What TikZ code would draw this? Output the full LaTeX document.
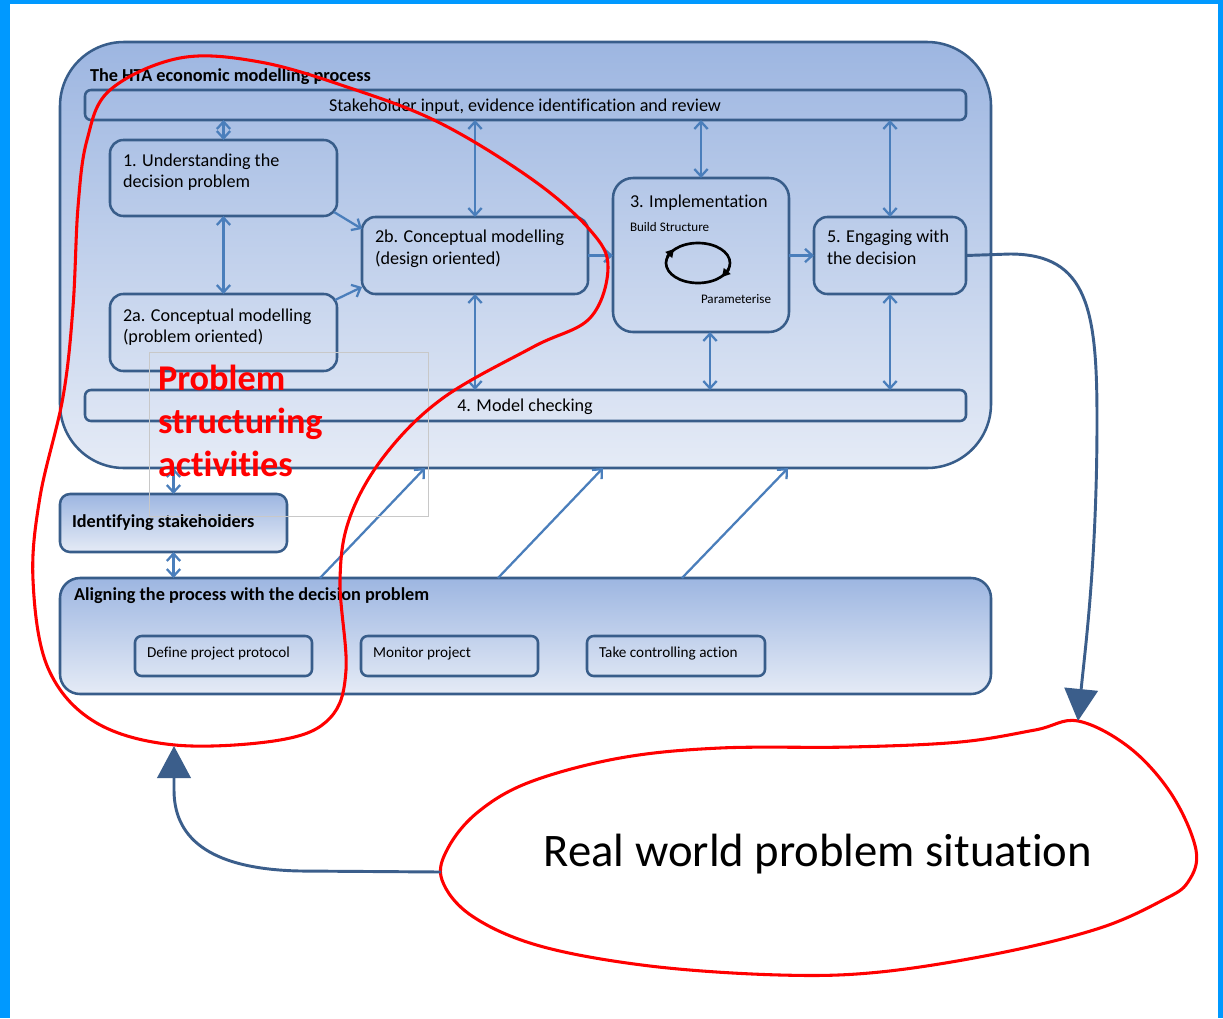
\documentclass[tikz,border=0pt]{standalone}
\usepackage{fontspec}
\setmainfont{Carlito}[Ligatures=NoCommon]
\usetikzlibrary{arrows.meta,calc}
\definecolor{frameblue}{HTML}{0099FF}
\definecolor{bord}{HTML}{385D8A}
\definecolor{arrlight}{HTML}{4A7EBB}
\definecolor{arrdark}{HTML}{3B5E8B}
\definecolor{gtop}{HTML}{9DB6E1}
\definecolor{gbot}{HTML}{E5EBF6}
\definecolor{psgray}{HTML}{C8C8C8}
\newcommand\fsz[1]{\fontsize{#1}{#1}\selectfont}
\begin{document}
\begin{tikzpicture}[x=0.75pt,y=-0.75pt,
  sz/.style 2 args={minimum width={#1*0.75pt},minimum height={#2*0.75pt}},
  boxbase/.style={draw=bord, line width=1.9pt, inner sep=0pt, outer sep=0pt, rectangle},
  grad/.style={top color=gtop, bottom color=gbot},
  txt/.style={inner sep=0pt, outer sep=0pt, text=black},
  boxtxt/.style={txt, anchor=base west, font=\fsz{13.6}},
  boldtxt/.style={txt, anchor=base west, font=\fsz{13.7}\bfseries},
  subtxt/.style={txt, anchor=base west, font=\fsz{11.4}},
  smalltxt/.style={txt, anchor=base west, font=\fsz{9.8}},
  redtxt/.style={txt, anchor=base west, text=red, font=\fsz{27.2}\bfseries},
  larr/.style={draw=arrlight, line width=1.7pt, -{Straight Barb[length=5.5pt,width=10pt]}},
  ldbl/.style={draw=arrlight, line width=1.7pt, {Straight Barb[length=5.5pt,width=10pt]}-{Straight Barb[length=5.5pt,width=10pt]}},
  darr/.style={draw=arrdark, line width=2.2pt, -{Triangle[length=24pt,width=25pt]}},
  redline/.style={draw=red, line width=2.3pt},
]
\useasboundingbox (0,0) rectangle (1223,1018);
\fill[white] (0,0) rectangle (1223,1018);
\fill[frameblue] (0,0) rectangle (10,1018);
\fill[frameblue] (0,0) rectangle (1223,4);
\fill[frameblue] (1218,0) rectangle (1223,1018);

% main container
\node[boxbase, grad, sz={931}{426}, rounded corners=48pt] (C) at (525.5,255) {};
\node[boldtxt] (tC) at (90,81) {The HTA economic modelling process};
\node[boxbase, sz={881}{30}, rounded corners=4.5pt] (S) at (525.5,105) {};
\node[txt, anchor=base, font=\fsz{13.6}] (tS) at (525,111) {Stakeholder input, evidence identification and review};
\node[boxbase, sz={227}{76}, rounded corners=10pt] (B1) at (223.5,178) {};
\node[boxtxt] (t1a) at (123,166) {1. Understanding the};
\node[boxtxt] (t1b) at (123,187) {decision problem};
\node[boxbase, sz={227}{77}, rounded corners=10pt] (B2a) at (223.5,332.5) {};
\node[boxtxt] (t2aa) at (123,321) {2a. Conceptual modelling};
\node[boxtxt] (t2ab) at (123,342) {(problem oriented)};
\node[boxbase, sz={226}{77}, rounded corners=10pt] (B2b) at (475,255.5) {};
\node[boxtxt] (t2ba) at (375,242) {2b. Conceptual modelling};
\node[boxtxt] (t2bb) at (375,264) {(design oriented)};
\node[boxbase, sz={176}{154}, rounded corners=15pt] (B3) at (701,255) {};
\node[boxtxt] (t3) at (630,207) {3. Implementation};
\node[smalltxt] (tbs) at (630,231) {Build Structure};
\node[smalltxt] (tpa) at (701,303) {Parameterise};
\node[boxbase, sz={152}{77}, rounded corners=10pt] (B5) at (890,255.5) {};
\node[boxtxt] (t5a) at (827,242) {5. Engaging with};
\node[boxtxt] (t5b) at (827,264) {the decision};
\node[boxbase, sz={881}{31}, rounded corners=4.5pt] (M) at (525.5,405.5) {};
\node[txt, anchor=base, font=\fsz{13.6}] (tM) at (525,411) {4. Model checking};

% cycle in implementation
\draw[black, line width=2pt] (698,263) ellipse [x radius=24pt, y radius=15pt];
\draw[black, line width=2pt, -{Triangle[length=6pt,width=6.5pt]}] (667,257) -- (674,249);
\draw[black, line width=2pt, -{Triangle[length=6pt,width=6.5pt]}] (729,269) -- (722,277);

% identifying stakeholders
\node[boxbase, grad, sz={227}{58}, rounded corners=7.5pt] (IS) at (173.5,523) {};
\node[boldtxt] (tIS) at (72,527) {Identifying stakeholders};

% aligning
\node[boxbase, grad, sz={931}{116}, rounded corners=15pt] (AL) at (525.5,636) {};
\node[boldtxt] (tAL) at (74,600) {Aligning the process with the decision problem};
\node[boxbase, sz={177}{40}, rounded corners=5pt] (D1) at (223.5,656) {};
\node[subtxt] (tD1) at (147,657) {Define project protocol};
\node[boxbase, sz={177}{40}, rounded corners=5pt] (D2) at (449.5,656) {};
\node[subtxt] (tD2) at (373,657) {Monitor project};
\node[boxbase, sz={178}{40}, rounded corners=5pt] (D3) at (676,656) {};
\node[subtxt] (tD3) at (599,657) {Take controlling action};

% light arrows
\draw[ldbl] (B1.north |- S.south) -- (B1.north);
\draw[ldbl] (B1.south) -- (B2a.north);
\draw[larr] ($(B1.south east)+(-3,-4)$) -- ($(B2b.north west)+(0,12)$);
\draw[larr] ($(B2a.north east)+(-2,6)$) -- ($(B2b.south west)+(0,-7)$);
\draw[ldbl] (B2b.north |- S.south) -- (B2b.north);
\draw[ldbl] (B2b.south) -- (B2b.south |- M.north);
\draw[larr] (B2b.east) -- (B2b.east -| B3.west);
\draw[ldbl] (B3.north |- S.south) -- (B3.north);
\draw[ldbl] ($(B3.south)+(9,0)$) -- ($(B3.south |- M.north)+(9,0)$);
\draw[larr] (B5.west -| B3.east) -- (B5.west);
\draw[ldbl] (B5.north |- S.south) -- (B5.north);
\draw[ldbl] (B5.south) -- (B5.south |- M.north);
\draw[ldbl] (IS.north |- C.south) -- (IS.north);
\draw[ldbl] (IS.south) -- (IS.south |- AL.north);
\draw[larr] ($(AL.north west)+(260,0)$) -- ($(C.south west)+(365,0)$);
\draw[larr] ($(AL.north west)+(438,0)$) -- ($(C.south west)+(543,0)$);
\draw[larr] ($(AL.north west)+(622,0)$) -- ($(C.south west)+(728,0)$);

% problem structuring text box
\node[draw=psgray, line width=0.75pt, sz={279}{164}, inner sep=0pt] (PSbox) at (288.5,434) {};
\node[redtxt] (tp1) at (158,390) {Problem};
\node[redtxt] (tp2) at (158,433) {structuring};
\node[redtxt] (tp3) at (158,476) {activities};

% red curves
\draw[redline] plot[smooth cycle, tension=0.6] coordinates {
 (180,58) (260,62) (350,88) (440,123) (533,180) (590,230) (608,267) (590,318)
 (533,347) (443,398) (385,455) (350,517) (340,580) (346,670) (330,718) (280,740)
 (175,745) (95,722) (48,668) (33,580) (40,497) (63,397) (73,307) (78,207)
 (87,140) (110,90)};
\draw[redline] plot[smooth cycle, tension=0.6] coordinates {
 (1078,721) (1130,748) (1172,795) (1196,850) (1188,882) (1163,900) (1100,928)
 (1000,953) (880,972) (780,975) (650,966) (540,946) (472,916) (442,880) (448,848)
 (478,812) (530,782) (620,758) (720,748) (850,747) (960,742) (1035,730)};
\node[txt, anchor=base, font=\fsz{35}] (tRW) at (818,866) {Real world problem situation};

% dark arrows
\coordinate (rwtop) at (1078,721);
\coordinate (rwleft) at (441,872);
\coordinate (psbot) at (174,746);
\draw[darr] (B5.east) -- (1010,254) .. controls (1088,254) and (1097,310) .. (1097,420) .. controls (1097,560) and (1085,650) .. (rwtop);
\draw[darr] (rwleft) -- (300,871) .. controls (205,869) and (174,835) .. (174,790) -- (psbot);
\end{tikzpicture}
\end{document}
